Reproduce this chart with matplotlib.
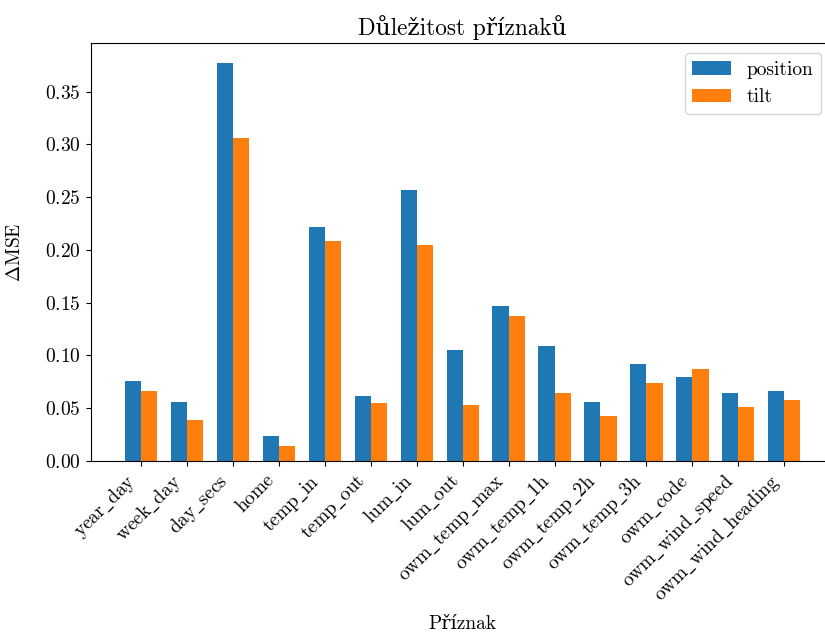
import numpy as np
import matplotlib
matplotlib.use("Agg")
import matplotlib.pyplot as plt

features = ["year_day", "week_day", "day_secs", "home", "temp_in", "temp_out",
            "lum_in", "lum_out", "owm_temp_max", "owm_temp_1h", "owm_temp_2h",
            "owm_temp_3h", "owm_code", "owm_wind_speed", "owm_wind_heading"]
position = [0.076, 0.056, 0.377, 0.024, 0.222, 0.062, 0.257, 0.105, 0.147,
            0.109, 0.056, 0.092, 0.080, 0.064, 0.066]
tilt = [0.066, 0.039, 0.306, 0.014, 0.208, 0.055, 0.205, 0.053, 0.137,
        0.064, 0.043, 0.074, 0.087, 0.051, 0.058]

plt.rcParams['font.family'] = ['cmr10', 'DejaVu Serif']
plt.rcParams['mathtext.fontset'] = 'cm'
plt.rcParams['axes.formatter.use_mathtext'] = True
plt.rcParams['font.size'] = 14

fig = plt.figure(figsize=(8.25, 6.34), dpi=100)
ax = fig.add_axes([0.110, 0.273, 0.902, 0.659])

x = np.arange(len(features))
w = 0.35
ax.bar(x - w / 2, position, w, label="position")
ax.bar(x + w / 2, tilt, w, label="tilt")

# latex-like underscores (cmr10 has a dot accent at '_')
labels = [r"$\mathrm{" + f.replace("_", r"\_") + "}$" for f in features]
ax.set_xticks(x)
ax.set_xticklabels(labels, rotation=45, ha="right")
ax.set_yticks(np.arange(0, 0.36, 0.05))
ax.set_xlim(-1.09, 15.1)
ax.set_ylim(0, 0.396)
ax.set_xlabel("Příznak")
ax.xaxis.set_label_coords(0.5, -0.368)
ax.set_ylabel(r"$\Delta$MSE")
ax.yaxis.set_label_coords(-0.090, 0.5)
ax.set_title("Důležitost příznaků")
ax.legend(loc="upper right", bbox_to_anchor=(0.995, 1.0))

fig.savefig("out.png", dpi=100)
